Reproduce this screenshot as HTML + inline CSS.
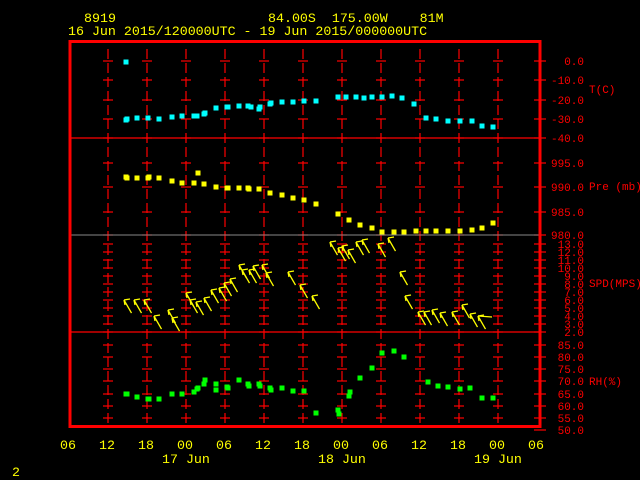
<!DOCTYPE html>
<html><head><meta charset="utf-8"><style>
html,body{margin:0;padding:0;background:#000;width:640px;height:480px;overflow:hidden}
svg{display:block}
text{font-family:"Liberation Mono",monospace;white-space:pre}
</style></head><body>
<svg id="s" width="640" height="480" xmlns="http://www.w3.org/2000/svg" xml:space="preserve">
<rect width="640" height="480" fill="#000"/>
<g fill="#ffff00" font-size="13.3">
<text x="84" y="22">8919</text>
<text x="268" y="22">84.00S  175.00W    81M</text>
<text x="68" y="35">16 Jun 2015/120000UTC - 19 Jun 2015/000000UTC</text>
<text x="60" y="449">06</text><text x="99" y="449">12</text><text x="138" y="449">18</text>
<text x="177" y="449">00</text><text x="216" y="449">06</text><text x="255" y="449">12</text>
<text x="294" y="449">18</text><text x="333" y="449">00</text><text x="372" y="449">06</text>
<text x="411" y="449">12</text><text x="450" y="449">18</text><text x="489" y="449">00</text>
<text x="528" y="449">06</text>
<text x="162" y="463">17 Jun</text><text x="318" y="463">18 Jun</text><text x="474" y="463">19 Jun</text>
<text x="12" y="476">2</text>
</g>
<g id="grid"></g>
<g fill="#ff0000" font-size="11" text-anchor="end">
<text x="584" y="65">0.0</text><text x="584" y="84">-10.0</text><text x="584" y="104">-20.0</text>
<text x="584" y="123">-30.0</text><text x="584" y="142">-40.0</text>
<text x="584" y="167">995.0</text><text x="584" y="191">990.0</text><text x="584" y="216">985.0</text>
<text x="584" y="239">980.0</text>
<text x="584" y="248">13.0</text><text x="584" y="256">12.0</text><text x="584" y="264">11.0</text>
<text x="584" y="272">10.0</text><text x="584" y="280">9.0</text><text x="584" y="288">8.0</text>
<text x="584" y="296">7.0</text><text x="584" y="304">6.0</text><text x="584" y="312">5.0</text>
<text x="584" y="320">4.0</text><text x="584" y="328">3.0</text><text x="584" y="336">2.0</text>
<text x="584" y="349">85.0</text><text x="584" y="361">80.0</text><text x="584" y="373">75.0</text>
<text x="584" y="385">70.0</text><text x="584" y="398">65.0</text><text x="584" y="410">60.0</text>
<text x="584" y="422">55.0</text><text x="584" y="434">50.0</text>
</g>
<g fill="#ff0000" font-size="11">
<text x="589" y="93">T(C)</text>
<text x="589" y="190">Pre (mb)</text>
<text x="589" y="287">SPD(MPS)</text>
<text x="589" y="385">RH(%)</text>
</g>
<g id="data"></g>
</svg>
<script>
var NS="http://www.w3.org/2000/svg";
function el(p,n,a){var e=document.createElementNS(NS,n);for(var k in a)e.setAttribute(k,a[k]);p.appendChild(e);return e;}
var g=document.getElementById("grid"),d=document.getElementById("data");
var ys=[61,80,100,119,138,163,187,212,235];
for(var i=0;i<12;i++)ys.push(244+i*8);
[345,357,369,381,394,406,418,430].forEach(function(y){ys.push(y)});
var xs=[108,147,186,225,264,303,342,381,420,459,498];
xs.forEach(function(x){
 el(g,"line",{x1:x,y1:49,x2:x,y2:425,stroke:"#ff0000","stroke-width":1.2,"stroke-dasharray":"10,4"});
 ys.forEach(function(y){if(y<427)el(g,"line",{x1:x-5,y1:y,x2:x+5,y2:y,stroke:"#ff0000","stroke-width":1.2});});
});
ys.forEach(function(y){el(g,"line",{x1:534,y1:y,x2:546,y2:y,stroke:"#ff0000","stroke-width":1.2});});
el(g,"line",{x1:70,y1:138,x2:540,y2:138,stroke:"#ff0000","stroke-width":1.2});
el(g,"line",{x1:70,y1:235,x2:540,y2:235,stroke:"#888","stroke-width":1});
el(g,"line",{x1:70,y1:332,x2:540,y2:332,stroke:"#ff0000","stroke-width":1.2});
el(g,"rect",{x:70,y:41.5,width:470,height:385,fill:"none",stroke:"#ff0000","stroke-width":3});
function pts(arr,c){arr.forEach(function(p){el(d,"rect",{x:p[0]-2.5,y:p[1]-2.5,width:5,height:5,fill:c});});}
pts([[126,62],[126,120],[127,119],[137,118],[148,118],[159,119],[172,117],[182,116],[194,116],[197,116],[204,114],[205,113],[216,108],[227,107],[228,107],[239,106],[248,106],[251,107],[259,109],[260,107],[270,104],[271,103],[282,102],[293,102],[304,101],[316,101],[338,97],[346,97],[356,97],[364,98],[372,97],[382,97],[392,96],[402,98],[414,104],[426,118],[436,119],[448,121],[460,121],[472,121],[482,126],[493,127]],"#00ffff");
pts([[126,177],[127,178],[137,178],[148,178],[149,177],[159,178],[172,181],[182,183],[194,183],[198,173],[204,184],[216,187],[227,188],[228,188],[239,188],[248,188],[249,189],[259,189],[270,193],[282,195],[293,198],[304,200],[316,204],[338,214],[349,220],[360,225],[372,228],[382,232],[394,232],[404,232],[416,231],[426,231],[436,231],[448,231],[460,231],[472,230],[482,228],[493,223]],"#ffff00");
pts([[126,394],[127,394],[137,397],[148,399],[149,399],[159,399],[172,394],[182,394],[194,392],[197,389],[198,388],[204,384],[205,380],[216,384],[216,390],[227,387],[228,388],[239,380],[248,384],[249,386],[259,384],[260,386],[270,388],[271,390],[282,388],[293,391],[304,391],[316,413],[338,410],[339,414],[349,396],[350,392],[360,378],[372,368],[382,353],[394,351],[404,357],[428,382],[438,386],[448,387],[460,389],[470,388],[482,398],[493,398]],"#00ff00");
var ar=[[124,300,1],[134,300,1],[144,300,0.8],[154,316,1],[168,310,1.2],[172,318,1],[186,293,1],[190,300,1],[196,302,1],[204,298,1],[211,290,1],[219,288,1],[224,283,1],[230,279,1],[239,265,1],[242,270,1],[249,270,1],[253,266,1],[262,265,1],[266,273,1],[288,272,1],[300,285,1],[312,296,1],[330,242,1],[338,248,1],[342,246,1],[348,250,1],[356,242,1],[362,240,1],[378,244,1],[388,238,1],[400,272,1],[405,296,1],[418,312,1],[424,312,1],[432,310,1],[440,313,1],[452,312,1],[462,305,1],[470,314,1],[478,316,1]];
ar.forEach(function(a){
 var x=a[0],y=a[1],L=15;var tx=x+L*0.5,ty=y+L*0.87;
 el(d,"line",{x1:x,y1:y,x2:tx,y2:ty,stroke:"#ffff00","stroke-width":1.3});
 el(d,"line",{x1:x,y1:y,x2:x+6,y2:y-1,stroke:"#ffff00","stroke-width":1.3});
 el(d,"line",{x1:x,y1:y,x2:x+1,y2:y+5,stroke:"#ffff00","stroke-width":1.3});
});
el(d,"line",{x1:478,y1:316,x2:492,y2:317,stroke:"#ffff00","stroke-width":1.3});
</script>
</body></html>
